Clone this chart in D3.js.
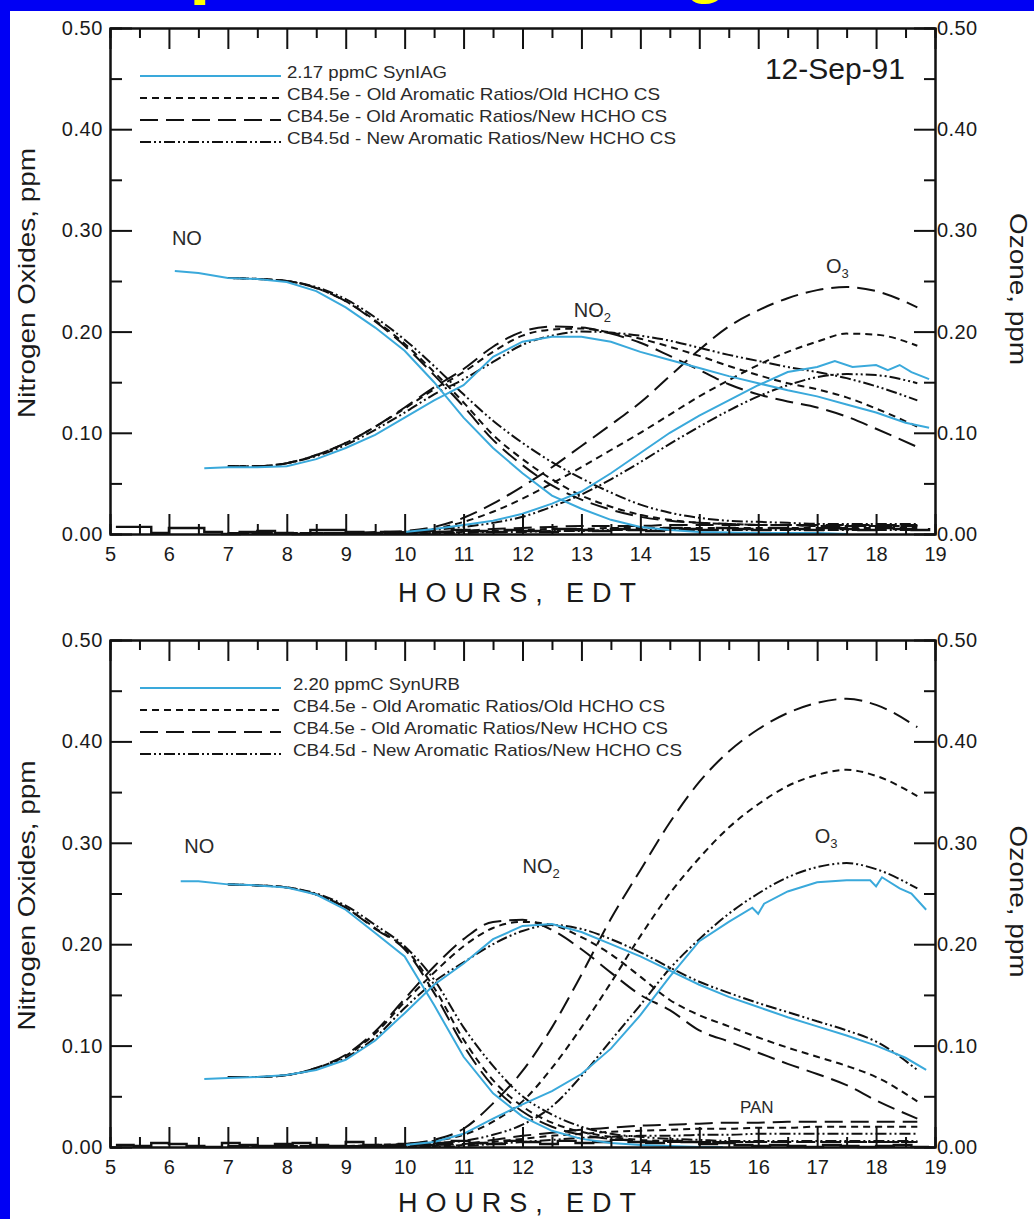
<!DOCTYPE html>
<html>
<head>
<meta charset="utf-8">
<script src="https://cdn.jsdelivr.net/npm/d3@7"></script>
<style>
  html, body { margin: 0; padding: 0; background: #fff; }
  svg { display: block; }
  text { font-family: "Liberation Sans", Arial, sans-serif; fill: #1a1a1a; }
</style>
</head>
<body>
<div id="chart"></div>
<script>
// ---- data ----
const xTickLabels = [5, 6, 7, 8, 9, 10, 11, 12, 13, 14, 15, 16, 17, 18, 19]
const yTickLabels = [0, 0.1, 0.2, 0.3, 0.4, 0.5]

// model output hours (both days)
const modelHours = [7, 7.5, 8, 8.5, 9, 9.5, 10, 10.5, 11, 11.5, 12, 12.5, 13, 13.5, 14, 14.5, 15, 15.5, 16, 16.5, 17, 17.5, 18, 18.7]

// ---- 12-Sep-91, 2.17 ppmC SynIAG ----
const iagObsNoHours = [6.1, 6.5, 7, 7.5, 8, 8.5, 9, 9.5, 10, 10.5, 11, 11.5, 12, 12.5, 13, 13.5, 14, 14.5, 15, 16, 17, 17.5]
const iagObsNo = [0.26, 0.258, 0.253, 0.252, 0.249, 0.24, 0.224, 0.204, 0.181, 0.15, 0.115, 0.085, 0.06, 0.038, 0.025, 0.014, 0.007, 0.004, 0.002, 0.001, 0.001, 0.0]
const iagObsNo2Hours = [6.6, 7, 7.5, 8, 8.5, 9, 9.5, 10, 10.5, 11, 11.5, 12, 12.5, 13, 13.5, 14, 14.5, 15, 15.5, 16, 16.5, 17, 17.5, 18, 18.5, 18.9]
const iagObsNo2 = [0.065, 0.066, 0.066, 0.067, 0.074, 0.085, 0.098, 0.115, 0.132, 0.147, 0.175, 0.19, 0.195, 0.195, 0.19, 0.18, 0.172, 0.164, 0.156, 0.149, 0.142, 0.136, 0.128, 0.12, 0.11, 0.105]
const iagObsO3Hours = [10, 10.5, 11, 11.5, 12, 12.5, 13, 13.5, 14, 14.5, 15, 15.5, 16, 16.5, 17, 17.3, 17.6, 18, 18.2, 18.4, 18.6, 18.9]
const iagObsO3 = [0.002, 0.005, 0.009, 0.013, 0.02, 0.03, 0.042, 0.06, 0.08, 0.1, 0.117, 0.132, 0.147, 0.16, 0.165, 0.171, 0.165, 0.167, 0.162, 0.167, 0.16, 0.153]

const iagNoOldOld = [0.253, 0.252, 0.25, 0.243, 0.23, 0.211, 0.188, 0.16, 0.13, 0.098, 0.074, 0.054, 0.038, 0.027, 0.019, 0.014, 0.011, 0.01, 0.009, 0.009, 0.008, 0.008, 0.008, 0.008]
const iagNoOldNew = [0.253, 0.252, 0.25, 0.243, 0.23, 0.21, 0.186, 0.157, 0.126, 0.093, 0.068, 0.048, 0.034, 0.024, 0.017, 0.013, 0.011, 0.01, 0.009, 0.009, 0.008, 0.008, 0.008, 0.008]
const iagNoNewNew = [0.253, 0.252, 0.25, 0.244, 0.232, 0.214, 0.192, 0.166, 0.138, 0.112, 0.09, 0.071, 0.055, 0.041, 0.029, 0.021, 0.016, 0.013, 0.012, 0.011, 0.01, 0.01, 0.01, 0.01]

const iagNo2OldOld = [0.067, 0.067, 0.07, 0.078, 0.09, 0.106, 0.124, 0.143, 0.16, 0.18, 0.196, 0.202, 0.203, 0.199, 0.193, 0.185, 0.176, 0.166, 0.157, 0.149, 0.143, 0.135, 0.124, 0.106]
const iagNo2OldNew = [0.067, 0.067, 0.07, 0.078, 0.09, 0.106, 0.125, 0.145, 0.163, 0.185, 0.2, 0.205, 0.204, 0.198, 0.189, 0.176, 0.162, 0.148, 0.138, 0.131, 0.125, 0.116, 0.104, 0.086]
const iagNo2NewNew = [0.067, 0.067, 0.07, 0.077, 0.088, 0.103, 0.12, 0.138, 0.153, 0.17, 0.187, 0.196, 0.2, 0.199, 0.196, 0.191, 0.184, 0.177, 0.171, 0.165, 0.16, 0.154, 0.146, 0.132]

const iagO3OldOld = [0.001, 0.001, 0.001, 0.001, 0.001, 0.001, 0.002, 0.005, 0.012, 0.022, 0.035, 0.05, 0.066, 0.083, 0.1, 0.118, 0.136, 0.152, 0.167, 0.18, 0.19, 0.198, 0.197, 0.186]
const iagO3OldNew = [0.001, 0.001, 0.001, 0.001, 0.001, 0.002, 0.003, 0.007, 0.016, 0.03, 0.047, 0.066, 0.087, 0.108, 0.13, 0.156, 0.182, 0.205, 0.221, 0.233, 0.241, 0.244, 0.24, 0.224]
const iagO3NewNew = [0.001, 0.001, 0.001, 0.001, 0.001, 0.001, 0.002, 0.004, 0.007, 0.011, 0.017, 0.027, 0.039, 0.054, 0.071, 0.089, 0.106, 0.122, 0.136, 0.147, 0.155, 0.158, 0.157, 0.149]

const iagPanOldOld = [0, 0, 0, 0, 0, 0, 0, 0.001, 0.002, 0.003, 0.004, 0.005, 0.005, 0.006, 0.006, 0.006, 0.006, 0.006, 0.006, 0.006, 0.006, 0.006, 0.006, 0.006]
const iagPanOldNew = [0, 0, 0, 0, 0, 0, 0.001, 0.002, 0.003, 0.005, 0.006, 0.007, 0.008, 0.008, 0.008, 0.009, 0.009, 0.009, 0.009, 0.009, 0.009, 0.009, 0.009, 0.009]
const iagPanNewNew = [0, 0, 0, 0, 0, 0, 0, 0.001, 0.001, 0.002, 0.002, 0.003, 0.003, 0.004, 0.004, 0.004, 0.004, 0.004, 0.004, 0.004, 0.004, 0.004, 0.004, 0.004]

// measured baseline trace along the bottom of both panels
const baseHours = [5.1, 5.4, 5.7, 6.0, 6.3, 6.6, 6.9, 7.2, 7.5, 7.8, 8.1, 8.4, 8.7, 9.0, 9.3, 9.6, 9.9, 10.2, 10.5, 10.8, 11.1, 11.4, 11.7, 12.0, 12.3, 12.6, 12.9, 13.2, 13.5, 13.8, 14.1, 14.4, 14.7, 15.0, 15.3, 15.6, 15.9, 16.2, 16.5, 16.8, 17.1, 17.4, 17.7, 18.0, 18.3, 18.6, 18.9]
const iagBase = [0.007, 0.007, 0.001, 0.006, 0.006, 0.002, 0.0, 0.002, 0.003, 0.001, 0.0, 0.004, 0.004, 0.002, 0.001, 0.002, 0.001, 0.003, 0.002, 0.004, 0.003, 0.002, 0.004, 0.003, 0.002, 0.005, 0.004, 0.003, 0.005, 0.004, 0.003, 0.006, 0.005, 0.004, 0.006, 0.005, 0.004, 0.006, 0.005, 0.004, 0.006, 0.005, 0.004, 0.006, 0.005, 0.004, 0.006]

// ---- 2.20 ppmC SynURB ----
const urbObsNoHours = [6.2, 6.5, 7, 7.5, 8, 8.5, 9, 9.5, 10, 10.5, 11, 11.5, 12, 12.5, 13, 13.5, 14, 14.5, 15, 15.4]
const urbObsNo = [0.262, 0.262, 0.259, 0.258, 0.256, 0.249, 0.234, 0.211, 0.188, 0.14, 0.089, 0.053, 0.03, 0.016, 0.008, 0.004, 0.002, 0.001, 0.0, 0.0]
const urbObsNo2Hours = [6.6, 7, 7.5, 8, 8.5, 9, 9.5, 10, 10.5, 11, 11.5, 12, 12.5, 13, 13.5, 14, 14.5, 15, 15.5, 16, 16.5, 17, 17.5, 18, 18.5, 18.85]
const urbObsNo2 = [0.067, 0.068, 0.069, 0.071, 0.076, 0.086, 0.105, 0.132, 0.16, 0.181, 0.205, 0.218, 0.22, 0.212, 0.2, 0.188, 0.174, 0.16, 0.148, 0.138, 0.128, 0.119, 0.11, 0.1, 0.088, 0.076]
const urbObsO3Hours = [10, 10.5, 11, 11.5, 12, 12.5, 13, 13.5, 14, 14.5, 15, 15.5, 15.9, 16.0, 16.1, 16.5, 17, 17.5, 17.9, 18.0, 18.1, 18.4, 18.6, 18.85]
const urbObsO3 = [0.002, 0.005, 0.013, 0.028, 0.042, 0.055, 0.072, 0.097, 0.13, 0.168, 0.203, 0.222, 0.236, 0.23, 0.24, 0.252, 0.261, 0.263, 0.263, 0.257, 0.266, 0.255, 0.25, 0.234]

const urbNoOldOld = [0.259, 0.258, 0.256, 0.249, 0.236, 0.216, 0.196, 0.157, 0.106, 0.066, 0.04, 0.024, 0.015, 0.01, 0.007, 0.006, 0.005, 0.005, 0.005, 0.005, 0.005, 0.005, 0.005, 0.005]
const urbNoOldNew = [0.259, 0.258, 0.256, 0.249, 0.236, 0.215, 0.195, 0.152, 0.1, 0.06, 0.035, 0.02, 0.012, 0.008, 0.006, 0.005, 0.005, 0.005, 0.005, 0.005, 0.005, 0.005, 0.005, 0.005]
const urbNoNewNew = [0.259, 0.258, 0.256, 0.25, 0.238, 0.219, 0.198, 0.165, 0.118, 0.08, 0.05, 0.032, 0.02, 0.013, 0.01, 0.008, 0.007, 0.006, 0.006, 0.006, 0.006, 0.006, 0.006, 0.006]

const urbNo2OldOld = [0.069, 0.069, 0.071, 0.078, 0.09, 0.112, 0.143, 0.172, 0.198, 0.216, 0.222, 0.219, 0.207, 0.19, 0.168, 0.145, 0.13, 0.119, 0.108, 0.098, 0.089, 0.08, 0.069, 0.045]
const urbNo2OldNew = [0.069, 0.069, 0.071, 0.078, 0.091, 0.114, 0.146, 0.178, 0.205, 0.222, 0.224, 0.214, 0.195, 0.172, 0.15, 0.135, 0.115, 0.104, 0.093, 0.082, 0.072, 0.061, 0.046, 0.028]
const urbNo2NewNew = [0.069, 0.069, 0.071, 0.077, 0.088, 0.108, 0.137, 0.163, 0.182, 0.2, 0.213, 0.219, 0.215, 0.205, 0.192, 0.177, 0.163, 0.152, 0.142, 0.133, 0.124, 0.115, 0.104, 0.076]

const urbO3OldOld = [0.001, 0.001, 0.001, 0.001, 0.001, 0.002, 0.003, 0.006, 0.012, 0.025, 0.045, 0.078, 0.118, 0.162, 0.208, 0.25, 0.285, 0.315, 0.338, 0.356, 0.367, 0.372, 0.366, 0.346]
const urbO3OldNew = [0.001, 0.001, 0.001, 0.001, 0.001, 0.002, 0.003, 0.007, 0.018, 0.043, 0.075, 0.118, 0.17, 0.225, 0.273, 0.32, 0.36, 0.39, 0.412, 0.428, 0.438, 0.442, 0.436, 0.414]
const urbO3NewNew = [0.001, 0.001, 0.001, 0.001, 0.001, 0.001, 0.002, 0.004, 0.006, 0.012, 0.022, 0.04, 0.07, 0.105, 0.14, 0.176, 0.205, 0.23, 0.25, 0.266, 0.276, 0.28, 0.274, 0.255]

const urbPanOldOld = [0, 0, 0, 0, 0, 0, 0, 0.001, 0.002, 0.005, 0.008, 0.011, 0.013, 0.015, 0.016, 0.017, 0.018, 0.018, 0.019, 0.019, 0.02, 0.02, 0.02, 0.02]
const urbPanOldNew = [0, 0, 0, 0, 0, 0, 0.001, 0.002, 0.003, 0.007, 0.011, 0.014, 0.017, 0.019, 0.021, 0.022, 0.023, 0.024, 0.024, 0.025, 0.025, 0.025, 0.025, 0.025]
const urbPanNewNew = [0, 0, 0, 0, 0, 0, 0, 0, 0.001, 0.003, 0.005, 0.007, 0.009, 0.01, 0.011, 0.011, 0.012, 0.012, 0.013, 0.013, 0.013, 0.013, 0.013, 0.013]

const urbBase = [0.002, 0.001, 0.004, 0.003, 0.001, 0.0, 0.004, 0.002, 0.001, 0.003, 0.004, 0.002, 0.001, 0.005, 0.002, 0.001, 0.003, 0.002, 0.004, 0.006, 0.004, 0.003, 0.006, 0.005, 0.003, 0.006, 0.004, 0.005, 0.007, 0.005, 0.004, 0.006, 0.005, 0.003, 0.004, 0.002, 0.001, 0.002, 0.001, 0.0, 0.002, 0.001, 0.0, 0.001, 0.002, 0.0, 0.001]

const modelNames = [
  "CB4.5e - Old Aromatic Ratios/Old HCHO CS",
  "CB4.5e - Old Aromatic Ratios/New HCHO CS",
  "CB4.5d - New Aromatic Ratios/New HCHO CS",
]

// ---- drawing ----
const W = 1034, H = 1219
const BLUE = "#3aa9db"
const INK = "#111"

const styles = {
  obs: { stroke: BLUE, width: 2, dash: null },
  a: { stroke: INK, width: 2, dash: "7,5" },
  b: { stroke: INK, width: 2, dash: "18,8" },
  c: { stroke: INK, width: 2, dash: "11,3,2,3,2,3" },
  base: { stroke: INK, width: 2.4, dash: null },
}

const svg = d3.select("#chart").append("svg").attr("width", W).attr("height", H)

// blue frame strips + the foot of the cut-off yellow title
svg.append("rect").attr("x", 0).attr("y", 0).attr("width", W).attr("height", 11).attr("fill", "#0000f4")
svg.append("rect").attr("x", 0).attr("y", 0).attr("width", 10).attr("height", H).attr("fill", "#0000f4")
svg.append("text").attr("x", 189).attr("y", -11).attr("font-family", "'Liberation Serif', serif")
  .attr("font-weight", "bold").attr("font-size", 78).style("fill", "#ffff00").text("p")
svg.append("text").attr("x", 684).attr("y", -11).attr("font-family", "'Liberation Serif', serif")
  .attr("font-weight", "bold").attr("font-size", 72).style("fill", "#ffff00").text("g")

function drawPanel(p) {
  const x = d3.scaleLinear().domain([5, 19]).range([110, 935])
  const y = d3.scaleLinear().domain([0, 0.5]).range([p.bottom, p.top])
  const g = svg.append("g")

  // series
  const lineGen = (hours, curve) => d3.line()
    .x((d, i) => x(hours[i]))
    .y((d) => y(d))
    .curve(curve)

  const order = p.series.filter((s) => s.kind !== "obs").concat(p.series.filter((s) => s.kind === "obs"))
  order.forEach((s) => {
    const st = styles[s.kind]
    const curve = s.kind === "base" ? d3.curveStepAfter : s.kind === "obs" ? d3.curveLinear : d3.curveMonotoneX
    g.append("path")
      .attr("d", lineGen(s.hours, curve)(s.values))
      .attr("fill", "none")
      .attr("stroke", st.stroke)
      .attr("stroke-width", st.width)
      .attr("stroke-dasharray", st.dash)
  })

  // axes with inward ticks
  const halfHours = xTickLabels.slice(0, -1).map((h) => h + 0.5)
  const halfY = yTickLabels.slice(0, -1).map((v) => v + 0.05)
  const axisStyle = (sel) => {
    sel.selectAll("path.domain").attr("stroke", INK).attr("stroke-width", 2)
    sel.selectAll(".tick line").attr("stroke", INK).attr("stroke-width", 2)
  }

  g.append("g").attr("transform", `translate(0,${p.bottom})`)
    .call(d3.axisBottom(x).tickValues(halfHours).tickSize(-10).tickFormat(""))
    .call(axisStyle)
  g.append("g").attr("transform", `translate(0,${p.bottom})`)
    .call(d3.axisBottom(x).tickValues(xTickLabels).tickSizeInner(-20).tickSizeOuter(0).tickPadding(13).tickFormat(d3.format("d")))
    .call(axisStyle)
    .call((a) => a.selectAll("text").attr("font-size", 20).style("fill", "#1a1a1a")
      .attr("font-family", "'Liberation Sans Narrow', 'Liberation Sans', Arial, sans-serif"))

  g.append("g").attr("transform", `translate(0,${p.top})`)
    .call(d3.axisTop(x).tickValues(halfHours).tickSize(-10).tickFormat(""))
    .call(axisStyle)
  g.append("g").attr("transform", `translate(0,${p.top})`)
    .call(d3.axisTop(x).tickValues(xTickLabels).tickSizeInner(-21).tickSizeOuter(0).tickFormat(""))
    .call(axisStyle)

  g.append("g").attr("transform", `translate(110,0)`)
    .call(d3.axisLeft(y).tickValues(halfY).tickSize(-12).tickFormat(""))
    .call(axisStyle)
  g.append("g").attr("transform", `translate(110,0)`)
    .call(d3.axisLeft(y).tickValues(yTickLabels).tickSizeInner(-22).tickSizeOuter(0).tickPadding(7).tickFormat(d3.format(".2f")))
    .call(axisStyle)
    .call((a) => a.selectAll("text").attr("font-size", 20).attr("letter-spacing", 0.6).style("fill", "#1a1a1a"))

  g.append("g").attr("transform", `translate(935,0)`)
    .call(d3.axisRight(y).tickValues(halfY).tickSize(-11).tickFormat(""))
    .call(axisStyle)
  g.append("g").attr("transform", `translate(935,0)`)
    .call(d3.axisRight(y).tickValues(yTickLabels).tickSizeInner(-21).tickSizeOuter(0).tickPadding(2).tickFormat(d3.format(".2f")))
    .call(axisStyle)
    .call((a) => a.selectAll("text").attr("font-size", 20).attr("letter-spacing", 0.4).style("fill", "#1a1a1a"))

  // axis titles
  g.append("text").attr("x", 517).attr("y", p.bottom + p.titleGap).attr("text-anchor", "middle")
    .attr("font-size", 27).attr("textLength", 238).attr("lengthAdjust", "spacing").text("HOURS, EDT")
  g.append("text").attr("transform", `translate(35,${(p.top + p.bottom) / 2 + 2}) rotate(-90)`)
    .attr("text-anchor", "middle").attr("font-size", 24).attr("textLength", 270).attr("lengthAdjust", "spacingAndGlyphs")
    .text("Nitrogen Oxides, ppm")
  g.append("text").attr("transform", `translate(1010,${(p.top + p.bottom) / 2 + 8}) rotate(90)`)
    .attr("text-anchor", "middle").attr("font-size", 24).attr("textLength", 152).attr("lengthAdjust", "spacingAndGlyphs")
    .text("Ozone, ppm")

  // legend
  const lg = g.append("g").attr("transform", `translate(0,${p.top})`)
  p.legend.forEach((row, i) => {
    const cy = 44 + i * 22
    const st = styles[row.kind]
    lg.append("line").attr("x1", 140).attr("x2", 281).attr("y1", cy + 4).attr("y2", cy + 4)
      .attr("stroke", st.stroke).attr("stroke-width", 2).attr("stroke-dasharray", st.dash)
    lg.append("text").attr("x", p.legendTextX).attr("y", cy + 6).attr("font-size", 17)
      .attr("textLength", row.width).attr("lengthAdjust", "spacingAndGlyphs").style("fill", "#2a2a2a").text(row.label)
  })

  // species labels
  p.labels.forEach((l) => {
    const t = g.append("text").attr("x", x(l.hour)).attr("y", y(l.value)).attr("font-size", l.size || 20).style("fill", "#2a2a2a")
    t.append("tspan").text(l.text)
    if (l.sub) t.append("tspan").attr("font-size", 13).attr("dy", 5).text(l.sub)
  })

  if (p.date) {
    g.append("text").attr("x", 905).attr("y", p.top + 51).attr("text-anchor", "end").attr("font-size", 30).text(p.date)
  }
}

const speciesSeries = (hours, obs, models) => [{ hours: hours, values: obs, kind: "obs" }]
  .concat(models.map((v, i) => ({ hours: modelHours, values: v, kind: ["a", "b", "c"][i] })))

drawPanel({
  top: 28, bottom: 534, legendTextX: 287, date: "12-Sep-91", titleGap: 68,
  series: [
    { hours: baseHours, values: iagBase, kind: "base" },
    { hours: modelHours, values: iagPanOldOld, kind: "a" },
    { hours: modelHours, values: iagPanOldNew, kind: "b" },
    { hours: modelHours, values: iagPanNewNew, kind: "c" },
  ].concat(
    speciesSeries(iagObsNoHours, iagObsNo, [iagNoOldOld, iagNoOldNew, iagNoNewNew]),
    speciesSeries(iagObsNo2Hours, iagObsNo2, [iagNo2OldOld, iagNo2OldNew, iagNo2NewNew]),
    speciesSeries(iagObsO3Hours, iagObsO3, [iagO3OldOld, iagO3OldNew, iagO3NewNew])
  ),
  legend: [
    { label: "2.17 ppmC SynIAG", kind: "obs", width: 160 },
    { label: modelNames[0], kind: "a", width: 373 },
    { label: modelNames[1], kind: "b", width: 380 },
    { label: modelNames[2], kind: "c", width: 389 },
  ],
  labels: [
    { text: "NO", hour: 6.05, value: 0.286 },
    { text: "NO", sub: "2", hour: 12.87, value: 0.214 },
    { text: "O", sub: "3", hour: 17.15, value: 0.258 },
  ],
})

drawPanel({
  top: 640, bottom: 1147, legendTextX: 293, titleGap: 65,
  series: [
    { hours: baseHours, values: urbBase, kind: "base" },
    { hours: modelHours, values: urbPanOldOld, kind: "a" },
    { hours: modelHours, values: urbPanOldNew, kind: "b" },
    { hours: modelHours, values: urbPanNewNew, kind: "c" },
  ].concat(
    speciesSeries(urbObsNoHours, urbObsNo, [urbNoOldOld, urbNoOldNew, urbNoNewNew]),
    speciesSeries(urbObsNo2Hours, urbObsNo2, [urbNo2OldOld, urbNo2OldNew, urbNo2NewNew]),
    speciesSeries(urbObsO3Hours, urbObsO3, [urbO3OldOld, urbO3OldNew, urbO3NewNew])
  ),
  legend: [
    { label: "2.20 ppmC SynURB", kind: "obs", width: 167 },
    { label: modelNames[0], kind: "a", width: 372 },
    { label: modelNames[1], kind: "b", width: 375 },
    { label: modelNames[2], kind: "c", width: 389 },
  ],
  labels: [
    { text: "NO", hour: 6.26, value: 0.29 },
    { text: "NO", sub: "2", hour: 12.0, value: 0.27 },
    { text: "O", sub: "3", hour: 16.96, value: 0.3 },
    { text: "PAN", hour: 15.69, value: 0.034, size: 17 },
  ],
})
</script>
</body>
</html>
